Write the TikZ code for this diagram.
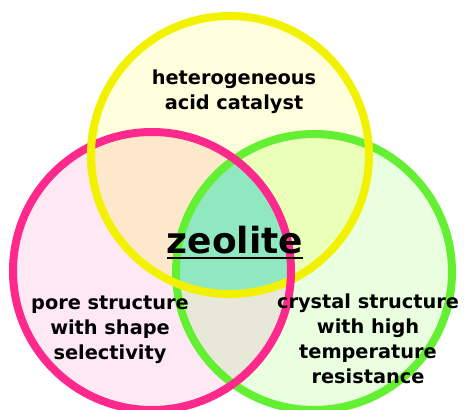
\documentclass[tikz,border=0pt]{standalone}
\usepackage{fontspec}
\setmainfont{DejaVu Sans}
\definecolor{yelline}{RGB}{242,242,0}
\definecolor{pinkline}{RGB}{255,40,140}
\definecolor{greenline}{RGB}{100,240,50}
\definecolor{yelfill}{RGB}{255,255,221}
\definecolor{pinkfill}{RGB}{253,232,244}
\definecolor{greenfill}{RGB}{234,255,223}
\definecolor{ypfill}{RGB}{253,232,204}
\definecolor{ygfill}{RGB}{234,255,184}
\definecolor{pgfill}{RGB}{232,232,216}
\definecolor{allfill}{RGB}{144,232,192}
\tikzset{
  ring/.style={line width=6pt},
  lbl/.style={font=\bfseries\fontsize{14.5}{18.75}\selectfont,align=center,inner sep=0pt},
  zeo/.style={font=\bfseries\fontsize{27}{30}\selectfont,inner sep=0pt},
  zline/.style={line width=1.8pt},
}
\begin{document}
\begin{tikzpicture}[x=0.75pt,y=-0.75pt]
  \useasboundingbox (0,0) rectangle (464,410);
  \coordinate (Y) at (230,155);
  \coordinate (P) at (152,271);
  \coordinate (G) at (314,272);
  % plain fills
  \fill[yelfill] (Y) circle (139);
  \fill[pinkfill] (P) circle (139);
  \fill[greenfill] (G) circle (138);
  % overlaps
  \begin{scope}
    \clip (P) circle (139);
    \fill[pgfill] (G) circle (138);
  \end{scope}
  \begin{scope}
    \clip (Y) circle (139);
    \fill[ypfill] (P) circle (139);
    \fill[ygfill] (G) circle (138);
    \clip (P) circle (139);
    \fill[allfill] (G) circle (138);
  \end{scope}
  % rings
  \draw[ring,greenline] (G) circle (138);
  \draw[ring,yelline] (Y) circle (139);
  \draw[ring,pinkline] (P) circle (139);
  \begin{scope}
    \clip (75,128) rectangle (110,172);
    \draw[ring,yelline] (Y) circle (139);
  \end{scope}
  % labels
  \node[lbl] (acid) at (234,92) {heterogeneous\\acid catalyst};
  \node[zeo] (zeolite) at (235,240) {zeolite};
  \draw[zline] ([yshift=-3pt]zeolite.south west) -- ([yshift=-3pt]zeolite.south east);
  \node[lbl] (pore) at (110,330) {pore structure\\with shape\\selectivity};
  \node[lbl] (crystal) at (368,339) {crystal structure\\with high\\temperature\\resistance};
\end{tikzpicture}
\end{document}
